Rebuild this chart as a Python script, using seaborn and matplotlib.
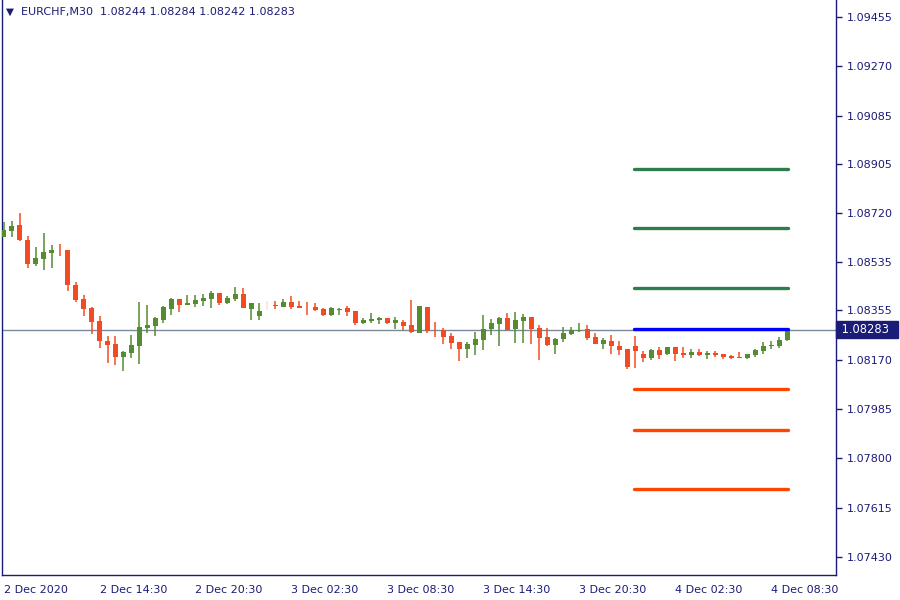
import pandas as pd
import seaborn as sns
import matplotlib.pyplot as plt

# EURCHF M30 candles, 2 Dec 2020 08:30 onwards
opens = [1.08631, 1.08654, 1.08675, 1.08619, 1.08530, 1.08549, 1.08571, 1.08583, 1.08581, 1.08450,
         1.08398, 1.08364, 1.08315, 1.08240, 1.08229, 1.08181, 1.08196, 1.08223, 1.08290, 1.08298,
         1.08320, 1.08361, 1.08396, 1.08376, 1.08379, 1.08390, 1.08399, 1.08420, 1.08383, 1.08399,
         1.08416, 1.08361, 1.08335, 1.08375, 1.08376, 1.08369, 1.08386, 1.08371, 1.08369, 1.08369,
         1.08360, 1.08339, 1.08358, 1.08364, 1.08353, 1.08308, 1.08315, 1.08319, 1.08326, 1.08308,
         1.08310, 1.08300, 1.08271, 1.08368, 1.08282, 1.08282, 1.08259, 1.08236, 1.08211, 1.08226,
         1.08245, 1.08285, 1.08305, 1.08326, 1.08285, 1.08316, 1.08330, 1.08289, 1.08255, 1.08226,
         1.08249, 1.08268, 1.08279, 1.08285, 1.08255, 1.08230, 1.08241, 1.08221, 1.08210, 1.08221,
         1.08191, 1.08177, 1.08206, 1.08193, 1.08218, 1.08196, 1.08189, 1.08200, 1.08189, 1.08195,
         1.08191, 1.08185, 1.08179, 1.08177, 1.08189, 1.08204, 1.08220, 1.08220, 1.08244]
highs = [1.08688, 1.08690, 1.08720, 1.08634, 1.08593, 1.08645, 1.08599, 1.08604, 1.08583, 1.08461,
         1.08413, 1.08366, 1.08334, 1.08259, 1.08259, 1.08203, 1.08263, 1.08386, 1.08375, 1.08329,
         1.08371, 1.08400, 1.08398, 1.08413, 1.08413, 1.08416, 1.08428, 1.08421, 1.08409, 1.08443,
         1.08439, 1.08383, 1.08383, 1.08390, 1.08390, 1.08398, 1.08409, 1.08390, 1.08386, 1.08383,
         1.08363, 1.08368, 1.08364, 1.08371, 1.08353, 1.08328, 1.08346, 1.08330, 1.08328, 1.08330,
         1.08320, 1.08394, 1.08371, 1.08368, 1.08310, 1.08289, 1.08270, 1.08236, 1.08236, 1.08274,
         1.08338, 1.08323, 1.08330, 1.08345, 1.08349, 1.08341, 1.08330, 1.08300, 1.08289, 1.08253,
         1.08293, 1.08293, 1.08307, 1.08300, 1.08270, 1.08251, 1.08263, 1.08240, 1.08211, 1.08259,
         1.08204, 1.08211, 1.08219, 1.08219, 1.08218, 1.08218, 1.08211, 1.08211, 1.08203, 1.08203,
         1.08193, 1.08189, 1.08200, 1.08193, 1.08211, 1.08236, 1.08240, 1.08255, 1.08284]
lows = [1.08630, 1.08631, 1.08616, 1.08515, 1.08523, 1.08508, 1.08515, 1.08560, 1.08429, 1.08388,
        1.08335, 1.08268, 1.08215, 1.08159, 1.08151, 1.08129, 1.08178, 1.08155, 1.08271, 1.08260,
        1.08309, 1.08339, 1.08349, 1.08375, 1.08369, 1.08373, 1.08365, 1.08376, 1.08379, 1.08391,
        1.08364, 1.08320, 1.08320, 1.08355, 1.08361, 1.08368, 1.08361, 1.08364, 1.08339, 1.08354,
        1.08335, 1.08335, 1.08339, 1.08335, 1.08301, 1.08305, 1.08309, 1.08305, 1.08305, 1.08284,
        1.08280, 1.08271, 1.08270, 1.08271, 1.08256, 1.08230, 1.08211, 1.08166, 1.08178, 1.08189,
        1.08208, 1.08264, 1.08223, 1.08280, 1.08234, 1.08234, 1.08230, 1.08170, 1.08223, 1.08193,
        1.08238, 1.08264, 1.08275, 1.08245, 1.08229, 1.08211, 1.08193, 1.08189, 1.08136, 1.08140,
        1.08163, 1.08170, 1.08174, 1.08189, 1.08166, 1.08178, 1.08178, 1.08185, 1.08174, 1.08181,
        1.08174, 1.08174, 1.08177, 1.08174, 1.08181, 1.08193, 1.08211, 1.08215, 1.08242]
closes = [1.08656, 1.08671, 1.08620, 1.08530, 1.08551, 1.08574, 1.08581, 1.08580, 1.08450, 1.08395,
          1.08361, 1.08313, 1.08241, 1.08226, 1.08181, 1.08199, 1.08225, 1.08293, 1.08300, 1.08326,
          1.08368, 1.08396, 1.08376, 1.08384, 1.08394, 1.08401, 1.08420, 1.08384, 1.08401, 1.08416,
          1.08365, 1.08383, 1.08353, 1.08375, 1.08373, 1.08386, 1.08369, 1.08365, 1.08366, 1.08358,
          1.08339, 1.08364, 1.08361, 1.08350, 1.08309, 1.08319, 1.08324, 1.08328, 1.08309, 1.08319,
          1.08297, 1.08274, 1.08371, 1.08279, 1.08280, 1.08256, 1.08234, 1.08211, 1.08228, 1.08248,
          1.08284, 1.08307, 1.08326, 1.08282, 1.08319, 1.08330, 1.08286, 1.08253, 1.08226, 1.08249,
          1.08270, 1.08281, 1.08282, 1.08253, 1.08230, 1.08244, 1.08220, 1.08207, 1.08144, 1.08204,
          1.08177, 1.08206, 1.08189, 1.08218, 1.08193, 1.08189, 1.08199, 1.08189, 1.08196, 1.08189,
          1.08181, 1.08177, 1.08177, 1.08190, 1.08206, 1.08221, 1.08226, 1.08244, 1.08283]

# horizontal levels drawn at the right side
up_levels = [1.08885, 1.08664, 1.08439]
entry_level = [1.08287]
down_levels = [1.08060, 1.07906, 1.07685]

y_ticks = [1.09455, 1.09270, 1.09085, 1.08905, 1.08720, 1.08535, 1.08355,
           1.08170, 1.07985, 1.07800, 1.07615, 1.07430]
x_tick_labels = ["2 Dec 2020", "2 Dec 14:30", "2 Dec 20:30", "3 Dec 02:30", "3 Dec 08:30",
                 "3 Dec 14:30", "3 Dec 20:30", "4 Dec 02:30", "4 Dec 08:30"]

df = pd.DataFrame({"open": opens, "high": highs, "low": lows, "close": closes})
df["bar"] = range(len(df))

navy = "#1b1b78"
bull = "#548c2f"
bear = "#f24b22"
doji = "#f5e4d6"

sns.set_style("white")
plt.rcParams["font.family"] = ["DejaVu Sans"]

fig = plt.figure(figsize=(9, 6), dpi=100)
ax = fig.add_axes([0.0025, 0.0417, 0.9265, 0.9583])

# ------------------------------
# candles
# ------------------------------
colors = [bull if c > o else (bear if c < o else doji) for o, c in zip(df["open"], df["close"])]
ax.vlines(df["bar"], df["low"], df["high"], colors=colors, linewidth=1.1, zorder=3)
body_low = df[["open", "close"]].min(axis=1)
body_h = (df["close"] - df["open"]).abs().clip(lower=0.000012)
ax.bar(df["bar"], body_h, bottom=body_low, width=0.62, color=colors, linewidth=0, zorder=4)

# current price line
ax.axhline(closes[-1], color="#7a8a9a", linewidth=1, zorder=2)

# ------------------------------
# level lines
# ------------------------------
start_bar, end_bar = 78.8, 98.1
rows = []
for name, lv in [("up", up_levels), ("entry", entry_level), ("down", down_levels)]:
    for k, p in enumerate(lv):
        for b in (start_bar, end_bar):
            rows.append({"bar": b, "price": p, "line": f"{name}{k}", "kind": name})
lv_df = pd.DataFrame(rows)
sns.lineplot(data=lv_df, x="bar", y="price", units="line", hue="kind", estimator=None,
             palette={"up": "#2e7d4f", "entry": "#0000ff", "down": "#ff4500"},
             linewidth=2.4, legend=False, ax=ax, zorder=5)

# ------------------------------
# axes styling
# ------------------------------
ax.set_xlim(-0.16, 104.1)
ax.set_ylim(1.07363, 1.09519)
ax.set_xlabel("")
ax.set_ylabel("")

for side in ["left", "bottom", "right"]:
    ax.spines[side].set_color(navy)
    ax.spines[side].set_linewidth(1)
ax.spines["top"].set_visible(False)

ax.yaxis.tick_right()
ax.set_yticks(y_ticks)
ax.set_yticklabels([f"{v:.5f}" for v in y_ticks])
ax.tick_params(axis="y", direction="out", length=4, width=1, colors=navy, labelsize=8, pad=4)

ax.set_xticks(range(0, len(df), 12))
ax.set_xticklabels(x_tick_labels)
ax.tick_params(axis="x", direction="out", length=4, width=1, colors=navy, labelsize=8, pad=3)
for lab in ax.get_xticklabels():
    lab.set_horizontalalignment("left")

# current price tag on the right scale
ax.text(1.002, closes[-1], " 1.08283  ", transform=ax.get_yaxis_transform(),
        ha="left", va="center", color="white", fontsize=8.3,
        bbox=dict(boxstyle="square,pad=0.18", facecolor=navy, edgecolor=navy))

# header
ax.text(0.004, 0.979, "\u25bc", transform=ax.transAxes, ha="left", va="center",
        color=navy, fontsize=7.5)
ax.text(0.022, 0.979, "EURCHF,M30  1.08244 1.08284 1.08242 1.08283", transform=ax.transAxes,
        ha="left", va="center", color=navy, fontsize=8)

fig.savefig("out.png", dpi=100, facecolor="white")
